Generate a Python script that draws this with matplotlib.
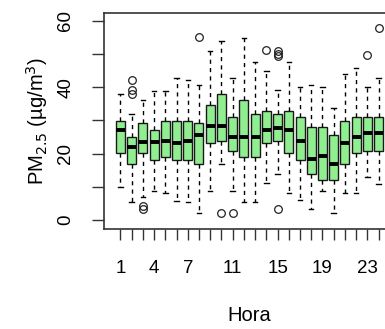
import matplotlib
matplotlib.use("Agg")
import matplotlib.pyplot as plt

hours = list(range(1, 25))
whislo = [10.0, 5.3, 7.0, 8.7, 8.0, 5.8, 5.3, 2.2, 8.8, 16.8, 8.8, 5.3,
          5.3, 11.0, 14.0, 8.0, 5.9, 3.2, 8.8, 2.2, 8.0, 8.0, 13.0, 10.8]
q1 = [20.1, 16.8, 20.1, 18.0, 18.9, 18.0, 18.0, 16.8, 23.1, 23.8, 20.8, 18.9,
      18.9, 23.1, 23.9, 20.1, 18.0, 14.0, 12.0, 12.0, 16.8, 20.1, 20.8, 20.8]
med = [27.1, 22.1, 23.6, 23.6, 23.9, 23.3, 23.8, 25.6, 28.4, 28.4, 25.1, 25.1,
       25.1, 27.1, 27.6, 27.1, 23.9, 18.5, 19.3, 16.8, 23.1, 25.1, 26.1, 26.1]
q3 = [29.9, 25.1, 29.1, 27.1, 29.9, 29.7, 29.7, 29.1, 34.7, 37.9, 31.1, 36.1,
      31.9, 32.7, 31.9, 32.7, 31.1, 27.9, 27.9, 25.6, 29.9, 31.1, 31.1, 31.1]
whishi = [37.9, 31.9, 36.1, 38.8, 38.8, 42.8, 42.0, 40.7, 50.9, 53.8, 42.8, 54.8,
          47.6, 44.9, 39.1, 47.6, 39.9, 40.6, 39.9, 33.8, 43.9, 45.6, 39.9, 42.8]
outliers = [[], [42.1, 39.1, 37.9], [4.2, 3.2], [], [], [], [], [55.1], [],
            [2.0], [2.0], [], [], [51.1], [50.9, 50.1, 49.3, 3.2], [], [], [],
            [], [], [], [], [49.8], [57.8]]

xtick_labels = ["1", "", "", "4", "", "", "7", "", "", "", "11", "", "", "",
                "15", "", "", "", "19", "", "", "", "23", ""]
ytick_vals = [0, 10, 20, 30, 40, 50, 60]
ytick_labels = ["0", "", "20", "", "40", "", "60"]

plt.rcParams['font.family'] = ['Liberation Sans', 'DejaVu Sans']

fig = plt.figure(figsize=(3.85, 3.29), dpi=100)
ax = fig.add_axes([104/385, 1 - 229/329, 291/385, 216/329])

stats = []
for i in range(len(hours)):
    stats.append(dict(whislo=whislo[i], q1=q1[i], med=med[i], q3=q3[i],
                      whishi=whishi[i], fliers=outliers[i]))

frame_col = '#333333'
ax.bxp(stats, positions=hours, widths=0.8, patch_artist=True,
       boxprops=dict(facecolor='#90EE90', edgecolor='#1a1a1a', linewidth=1.0),
       medianprops=dict(color='black', linewidth=2.8, solid_capstyle='butt'),
       whiskerprops=dict(color='black', linewidth=1.0, linestyle=(0, (3, 3))),
       capprops=dict(color='black', linewidth=1.0),
       capwidths=0.4,
       flierprops=dict(marker='o', markerfacecolor='none', markeredgecolor='#222222',
                       markersize=5.5, markeredgewidth=0.9))

ax.set_xlim(-0.46, 25.46)
ax.set_ylim(-2.7, 62.3)
ax.set_xticks(hours)
ax.set_xticklabels(xtick_labels, fontsize=13.5)
ax.set_yticks(ytick_vals)
ax.set_yticklabels(ytick_labels, fontsize=13.5, rotation=90, va='center')
ax.tick_params(axis='x', length=8, width=1, color=frame_col, pad=14)
ax.tick_params(axis='y', length=8.5, width=1, color=frame_col, pad=13)
for sp in ax.spines.values():
    sp.set_color(frame_col)
    sp.set_linewidth(1.2)

ax.set_xlabel("Hora", fontsize=14.5, labelpad=21)
ax.set_ylabel("PM$_{2.5}$ (µg/m$^3$)", fontsize=14.5, labelpad=5)

fig.savefig("out.png", dpi=100)
